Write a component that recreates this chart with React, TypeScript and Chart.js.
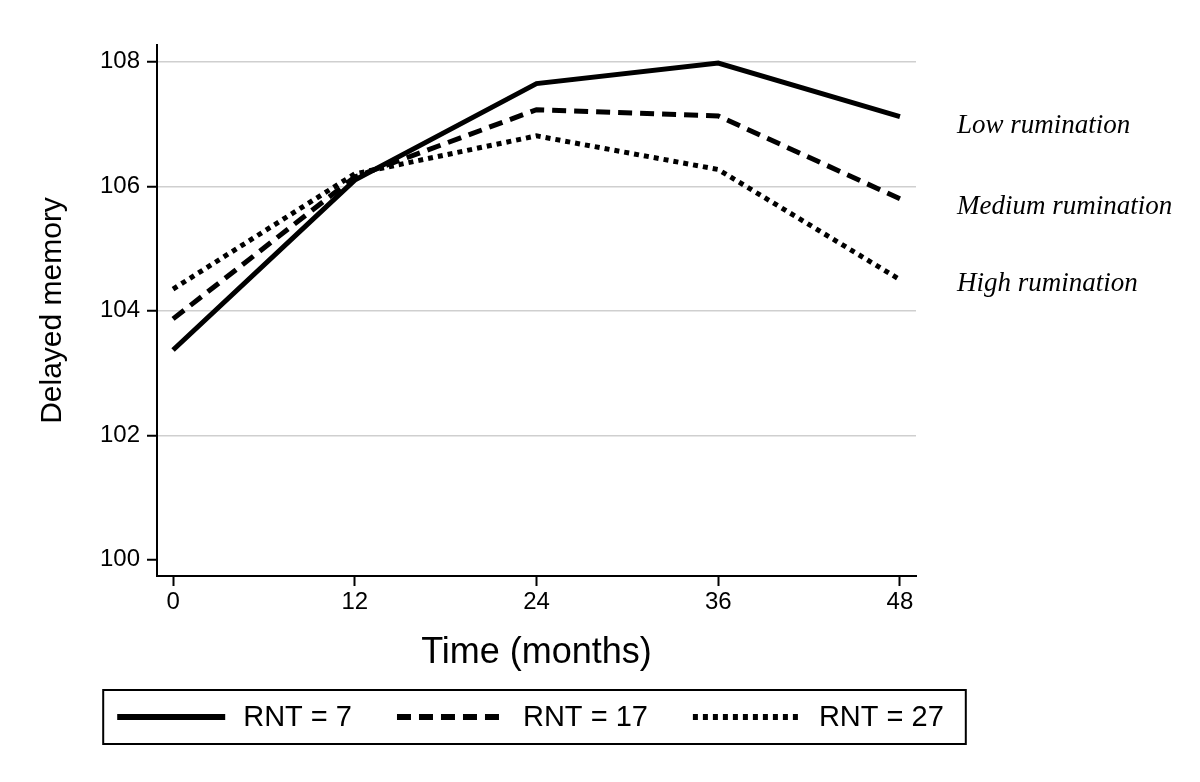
import React, { useEffect, useRef } from "react";
import { Chart, registerables } from "chart.js";

Chart.register(...registerables);

const months = [0, 12, 24, 36, 48];
const yTicks = [100, 102, 104, 106, 108];
const seriesLabels = ["RNT = 7", "RNT = 17", "RNT = 27"];
const lowRnt = [103.37, 106.1, 107.65, 107.98, 107.12];
const mediumRnt = [103.87, 106.15, 107.23, 107.13, 105.8];
const highRnt = [104.35, 106.2, 106.81, 106.27, 104.5];
const sideLabels = ["Low rumination", "Medium rumination", "High rumination"];
const xTitle = "Time (months)";
const yTitle = "Delayed memory";

const SANS = "'Liberation Sans', Arial, sans-serif";
const SERIF = "'Liberation Serif', 'Times New Roman', serif";

const sideLabelPlugin = {
  id: "sideLabels",
  afterDatasetsDraw(chart: any) {
    const ctx = chart.ctx;
    ctx.save();
    ctx.font = `italic 27px ${SERIF}`;
    ctx.fillStyle = "#000";
    ctx.textAlign = "left";
    ctx.textBaseline = "middle";
    const offsets = [9, 8, 4];
    chart.data.datasets.forEach((_ds: any, i: number) => {
      const meta = chart.getDatasetMeta(i);
      const last = meta.data[meta.data.length - 1];
      if (!last) return;
      ctx.fillText(sideLabels[i], chart.chartArea.right + 41, last.y + offsets[i]);
    });
    ctx.restore();
  },
};

// Boxed legend below the axis title, drawn from the datasets' own styles.
const boxedLegendPlugin = {
  id: "boxedLegend",
  afterDraw(chart: any) {
    const ctx = chart.ctx;
    const lineLen = 108;
    const textGap = 18;
    const itemGap = 45;
    const padL = 14;
    const padR = 22;
    ctx.save();
    ctx.font = `29px ${SANS}`;
    const items = chart.data.datasets.map((ds: any) => ({
      ds,
      w: lineLen + textGap + ctx.measureText(ds.label).width,
    }));
    const total = items.reduce((a: number, it: any) => a + it.w, 0) + itemGap * (items.length - 1);
    const ca = chart.chartArea;
    let x = (ca.left + ca.right) / 2 - total / 2 - 6;
    const cy = ca.bottom + 141;
    ctx.strokeStyle = "#000";
    ctx.lineWidth = 2;
    ctx.setLineDash([]);
    ctx.strokeRect(x - padL, cy - 27, total + padL + padR, 54);
    items.forEach((it: any) => {
      ctx.save();
      ctx.strokeStyle = it.ds.borderColor;
      ctx.lineWidth = 6;
      ctx.lineCap = "butt";
      ctx.setLineDash(it.ds.borderDash || []);
      ctx.beginPath();
      ctx.moveTo(x, cy);
      ctx.lineTo(x + lineLen, cy);
      ctx.stroke();
      ctx.restore();
      ctx.fillStyle = "#000";
      ctx.textAlign = "left";
      ctx.textBaseline = "middle";
      ctx.fillText(it.ds.label, x + lineLen + textGap, cy + 1);
      x += it.w + itemGap;
    });
    ctx.restore();
  },
};

export default function App() {
  const ref = useRef<HTMLCanvasElement | null>(null);

  useEffect(() => {
    if (!ref.current) return;
    const mk = (vals: number[]) => vals.map((v, i) => ({ x: months[i], y: v }));
    const chart = new Chart(ref.current, {
      type: "line",
      data: {
        datasets: [
          {
            label: seriesLabels[0],
            data: mk(lowRnt),
            borderColor: "#000",
            backgroundColor: "#000",
            borderWidth: 5,
            pointRadius: 0,
            tension: 0,
          },
          {
            label: seriesLabels[1],
            data: mk(mediumRnt),
            borderColor: "#000",
            backgroundColor: "#000",
            borderWidth: 5,
            borderDash: [14, 8],
            pointRadius: 0,
            tension: 0,
          },
          {
            label: seriesLabels[2],
            data: mk(highRnt),
            borderColor: "#000",
            backgroundColor: "#000",
            borderWidth: 5,
            borderDash: [5, 5],
            pointRadius: 0,
            tension: 0,
          },
        ],
      },
      options: {
        animation: false,
        responsive: true,
        maintainAspectRatio: false,
        layout: { padding: { left: 0, right: 284, top: 45, bottom: 125 } },
        plugins: {
          tooltip: { enabled: false },
          legend: { display: false },
        },
        scales: {
          x: {
            type: "linear",
            min: -1.06,
            max: 49.06,
            afterBuildTicks: (s: any) => {
              s.ticks = months.map((v) => ({ value: v }));
            },
            afterFit: (s: any) => {
              s.height = 81;
            },
            border: { color: "#000", width: 2 },
            grid: {
              drawOnChartArea: false,
              drawTicks: true,
              tickLength: 10,
              tickColor: "#000",
              tickWidth: 2,
            },
            ticks: {
              color: "#000",
              padding: 2,
              font: { family: SANS, size: 24 },
              maxRotation: 0,
              autoSkip: false,
            },
            title: {
              display: true,
              text: xTitle,
              color: "#000",
              font: { family: SANS, size: 36 },
              padding: { top: 0, bottom: -18 },
            },
          },
          y: {
            type: "linear",
            min: 99.74,
            max: 108.27,
            afterBuildTicks: (s: any) => {
              s.ticks = yTicks.map((v) => ({ value: v }));
            },
            afterFit: (s: any) => {
              s.width = 157;
            },
            border: { color: "#000", width: 2 },
            grid: {
              color: (ctx: any) => (ctx.tick && ctx.tick.value === yTicks[0] ? "rgba(0,0,0,0)" : "#cfcfcf"),
              lineWidth: 1.5,
              drawTicks: true,
              tickLength: 10,
              tickColor: "#000",
              tickWidth: 2,
            },
            ticks: {
              color: "#000",
              padding: 7,
              font: { family: SANS, size: 24 },
              autoSkip: false,
            },
            title: {
              display: true,
              text: yTitle,
              color: "#000",
              font: { family: SANS, size: 30 },
              padding: { top: 35, bottom: 0 },
            },
          },
        },
      },
      plugins: [sideLabelPlugin, boxedLegendPlugin],
    });
    return () => chart.destroy();
  }, []);

  return (
    <div style={{ position: "absolute", left: 0, top: 0, width: 1200, height: 782, background: "#fff" }}>
      <canvas ref={ref} />
    </div>
  );
}
